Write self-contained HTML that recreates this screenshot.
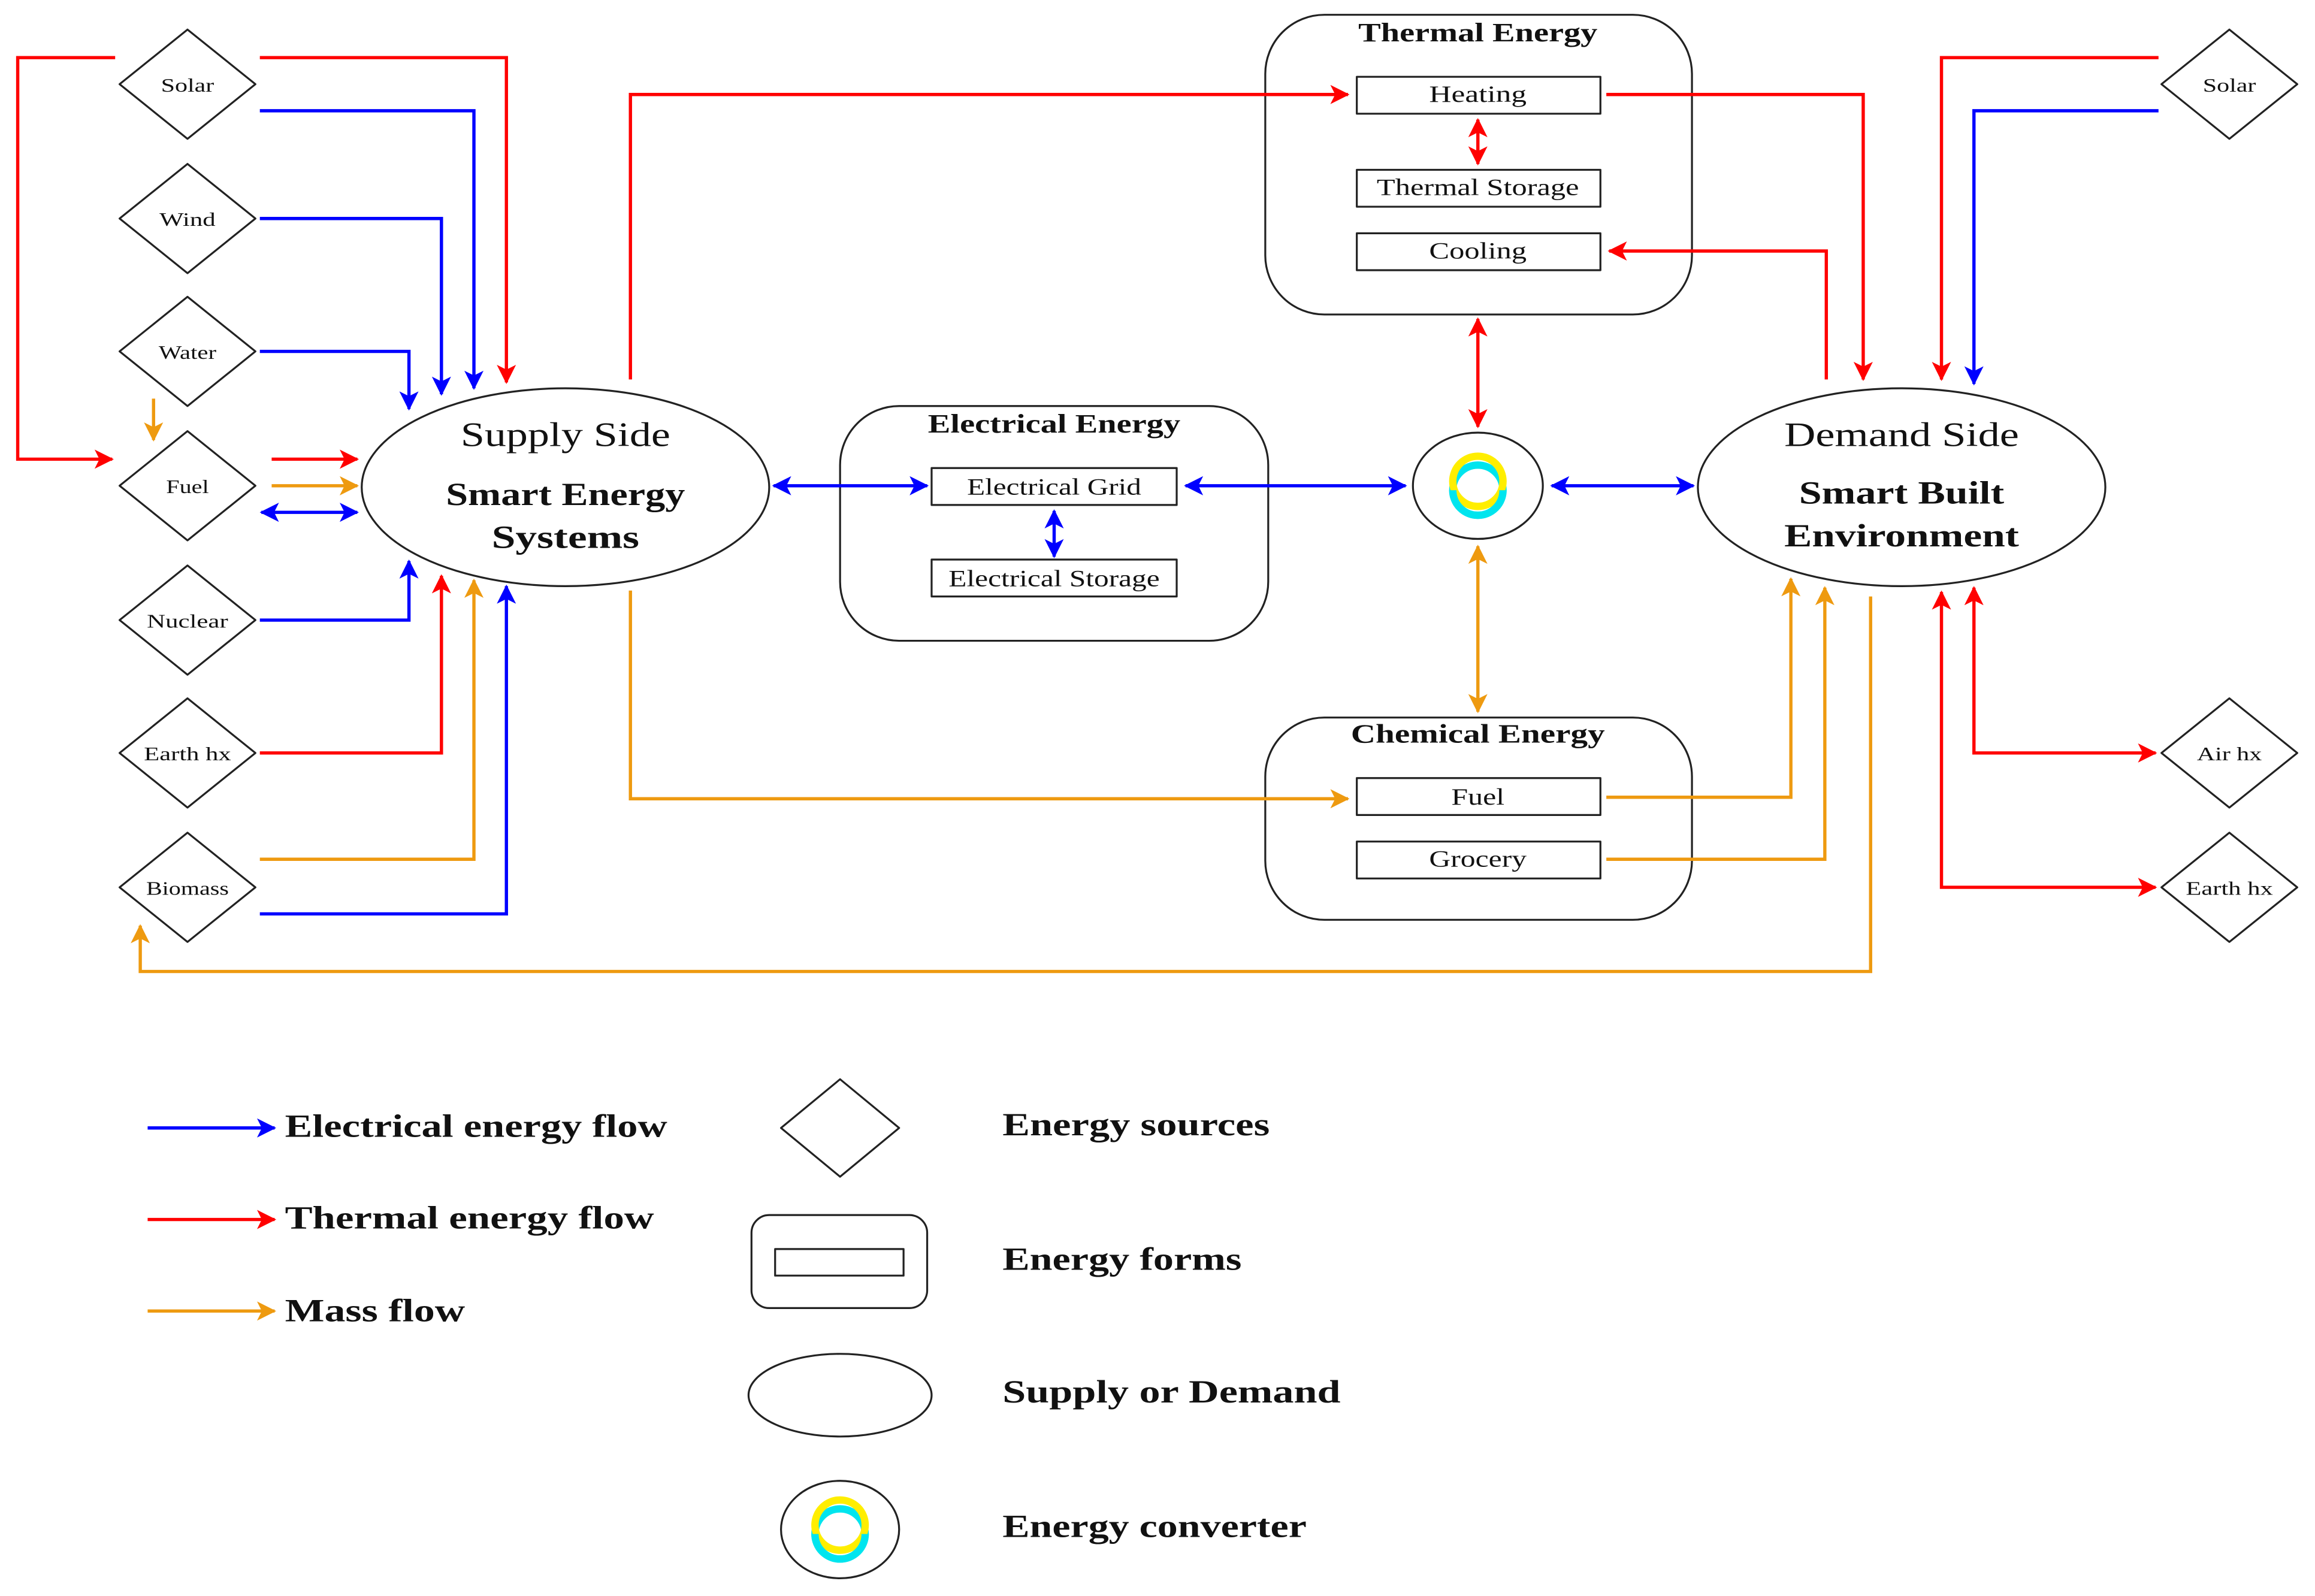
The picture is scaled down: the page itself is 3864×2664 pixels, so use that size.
<!DOCTYPE html>
<html><head><meta charset="utf-8"><style>
html,body{margin:0;padding:0;background:#fff}
svg{display:block}
text{font-family:"Liberation Serif",serif;fill:#111}
</style></head><body>
<svg width="3864" height="2664" viewBox="0 0 1568 1081" xmlns="http://www.w3.org/2000/svg">
<defs>
<marker id="ab" viewBox="0 0 12 12" refX="11" refY="6" markerWidth="13" markerHeight="13" markerUnits="userSpaceOnUse" orient="auto-start-reverse"><path d="M0,0 L12,6 L0,12 L3,6 Z" fill="#0000ff"/></marker>
<marker id="ar" viewBox="0 0 12 12" refX="11" refY="6" markerWidth="13" markerHeight="13" markerUnits="userSpaceOnUse" orient="auto-start-reverse"><path d="M0,0 L12,6 L0,12 L3,6 Z" fill="#ff0000"/></marker>
<marker id="ao" viewBox="0 0 12 12" refX="11" refY="6" markerWidth="13" markerHeight="13" markerUnits="userSpaceOnUse" orient="auto-start-reverse"><path d="M0,0 L12,6 L0,12 L3,6 Z" fill="#ee9a10"/></marker>
<g id="conv">
<circle cx="0" cy="3" r="17" fill="none" stroke="#00e5ee" stroke-width="5"/>
<circle cx="0" cy="-3" r="17" fill="none" stroke="#ffee00" stroke-width="5"/>
<path d="M-17,3 A17,17 0 0,0 17,3" fill="none" stroke="#00e5ee" stroke-width="5"/>
</g>
</defs>

<g fill="#fff" stroke="#222" stroke-width="1.3" stroke-linejoin="round">
<path d="M127,20 L173,57 L127,94 L81,57 Z"/>
<path d="M127,111 L173,148 L127,185 L81,148 Z"/>
<path d="M127,201 L173,238 L127,275 L81,238 Z"/>
<path d="M127,292 L173,329 L127,366 L81,329 Z"/>
<path d="M127,383 L173,420 L127,457 L81,420 Z"/>
<path d="M127,473 L173,510 L127,547 L81,510 Z"/>
<path d="M127,564 L173,601 L127,638 L81,601 Z"/>
<path d="M1510,20 L1556,57 L1510,94 L1464,57 Z"/>
<path d="M1510,473 L1556,510 L1510,547 L1464,510 Z"/>
<path d="M1510,564 L1556,601 L1510,638 L1464,601 Z"/>
<ellipse cx="383" cy="330" rx="138" ry="67"/>
<ellipse cx="1288" cy="330" rx="138" ry="67"/>
<rect x="569" y="275" width="290" height="159" rx="40"/>
<rect x="857" y="10" width="289" height="203" rx="40"/>
<rect x="857" y="486" width="289" height="137" rx="40"/>
<ellipse cx="1001" cy="329" rx="44" ry="36"/>
<rect x="919" y="52" width="165" height="25"/>
<rect x="919" y="115" width="165" height="25"/>
<rect x="919" y="158" width="165" height="25"/>
<rect x="631" y="317" width="166" height="25"/>
<rect x="631" y="379" width="166" height="25"/>
<rect x="919" y="527" width="165" height="25"/>
<rect x="919" y="570" width="165" height="25"/>
<path d="M569,731 L609,764 L569,797 L529,764 Z"/>
<rect x="509" y="823" width="119" height="63" rx="12"/>
<rect x="525" y="846" width="87" height="18"/>
<ellipse cx="569" cy="945" rx="62" ry="28"/>
<ellipse cx="569" cy="1036" rx="40" ry="33"/>
</g>
<use href="#conv" x="1001" y="329"/>
<use href="#conv" x="569" y="1036"/>

<g fill="none" stroke-width="2.2" stroke-linejoin="miter">
<path d="M78,39 H12 V311 H76" stroke="#f00" marker-end="url(#ar)"/>
<path d="M176,39 H343 V259" stroke="#f00" marker-end="url(#ar)"/>
<path d="M176,75 H321 V263" stroke="#00f" marker-end="url(#ab)"/>
<path d="M176,148 H299 V267" stroke="#00f" marker-end="url(#ab)"/>
<path d="M176,238 H277 V277" stroke="#00f" marker-end="url(#ab)"/>
<path d="M104,270 V298" stroke="#ee9a10" marker-end="url(#ao)"/>
<path d="M184,311 H242" stroke="#f00" marker-end="url(#ar)"/>
<path d="M184,329 H242" stroke="#ee9a10" marker-end="url(#ao)"/>
<path d="M177,347 H242" stroke="#00f" marker-start="url(#ab)" marker-end="url(#ab)"/>
<path d="M176,420 H277 V380" stroke="#00f" marker-end="url(#ab)"/>
<path d="M176,510 H299 V390" stroke="#f00" marker-end="url(#ar)"/>
<path d="M176,582 H321 V393" stroke="#ee9a10" marker-end="url(#ao)"/>
<path d="M176,619 H343 V397" stroke="#00f" marker-end="url(#ab)"/>
<path d="M427,257 V64 H913" stroke="#f00" marker-end="url(#ar)"/>
<path d="M427,400 V541 H913" stroke="#ee9a10" marker-end="url(#ao)"/>
<path d="M524,329 H628" stroke="#00f" marker-start="url(#ab)" marker-end="url(#ab)"/>
<path d="M803,329 H952" stroke="#00f" marker-start="url(#ab)" marker-end="url(#ab)"/>
<path d="M1051,329 H1147" stroke="#00f" marker-start="url(#ab)" marker-end="url(#ab)"/>
<path d="M714,346 V377" stroke="#00f" marker-start="url(#ab)" marker-end="url(#ab)"/>
<path d="M1001,81 V111" stroke="#f00" marker-start="url(#ar)" marker-end="url(#ar)"/>
<path d="M1001,216 V289" stroke="#f00" marker-start="url(#ar)" marker-end="url(#ar)"/>
<path d="M1001,370 V482" stroke="#ee9a10" marker-start="url(#ao)" marker-end="url(#ao)"/>
<path d="M1088,64 H1262 V257" stroke="#f00" marker-end="url(#ar)"/>
<path d="M1237,257 V170 H1090" stroke="#f00" marker-end="url(#ar)"/>
<path d="M1462,39 H1315 V257" stroke="#f00" marker-end="url(#ar)"/>
<path d="M1462,75 H1337 V260" stroke="#00f" marker-end="url(#ab)"/>
<path d="M1088,540 H1213 V392" stroke="#ee9a10" marker-end="url(#ao)"/>
<path d="M1088,582 H1236 V398" stroke="#ee9a10" marker-end="url(#ao)"/>
<path d="M1267,404 V658 H95 V627" stroke="#ee9a10" marker-end="url(#ao)"/>
<path d="M1337,398 V510 H1460" stroke="#f00" marker-start="url(#ar)" marker-end="url(#ar)"/>
<path d="M1315,401 V601 H1460" stroke="#f00" marker-start="url(#ar)" marker-end="url(#ar)"/>
<path d="M100,764 H186" stroke="#00f" marker-end="url(#ab)"/>
<path d="M100,826 H186" stroke="#f00" marker-end="url(#ar)"/>
<path d="M100,888 H186" stroke="#ee9a10" marker-end="url(#ao)"/>
</g>

<g font-size="13" text-anchor="middle">
<text x="127" y="62" textLength="36" lengthAdjust="spacingAndGlyphs">Solar</text>
<text x="127" y="153" textLength="38" lengthAdjust="spacingAndGlyphs">Wind</text>
<text x="127" y="243" textLength="39" lengthAdjust="spacingAndGlyphs">Water</text>
<text x="127" y="334" textLength="29" lengthAdjust="spacingAndGlyphs">Fuel</text>
<text x="127" y="425" textLength="55" lengthAdjust="spacingAndGlyphs">Nuclear</text>
<text x="127" y="515" textLength="59" lengthAdjust="spacingAndGlyphs">Earth hx</text>
<text x="127" y="606" textLength="56" lengthAdjust="spacingAndGlyphs">Biomass</text>
<text x="1510" y="62" textLength="36" lengthAdjust="spacingAndGlyphs">Solar</text>
<text x="1510" y="515" textLength="44" lengthAdjust="spacingAndGlyphs">Air hx</text>
<text x="1510" y="606" textLength="59" lengthAdjust="spacingAndGlyphs">Earth hx</text>
</g>
<g font-size="16" text-anchor="middle">
<text x="1001" y="69" textLength="66" lengthAdjust="spacingAndGlyphs">Heating</text>
<text x="1001" y="132" textLength="137" lengthAdjust="spacingAndGlyphs">Thermal Storage</text>
<text x="1001" y="175" textLength="66" lengthAdjust="spacingAndGlyphs">Cooling</text>
<text x="714" y="335" textLength="118" lengthAdjust="spacingAndGlyphs">Electrical Grid</text>
<text x="714" y="397" textLength="143" lengthAdjust="spacingAndGlyphs">Electrical Storage</text>
<text x="1001" y="545" textLength="36" lengthAdjust="spacingAndGlyphs">Fuel</text>
<text x="1001" y="587" textLength="66" lengthAdjust="spacingAndGlyphs">Grocery</text>
</g>
<g font-size="18" font-weight="bold" text-anchor="middle">
<text x="1001" y="28" textLength="162" lengthAdjust="spacingAndGlyphs">Thermal Energy</text>
<text x="714" y="293" textLength="171" lengthAdjust="spacingAndGlyphs">Electrical Energy</text>
<text x="1001" y="503" textLength="172" lengthAdjust="spacingAndGlyphs">Chemical Energy</text>
</g>
<g text-anchor="middle">
<text x="383" y="302" font-size="23" textLength="142" lengthAdjust="spacingAndGlyphs">Supply Side</text>
<text x="383" y="342" font-size="22" font-weight="bold" textLength="162" lengthAdjust="spacingAndGlyphs">Smart Energy</text>
<text x="383" y="371" font-size="22" font-weight="bold" textLength="100" lengthAdjust="spacingAndGlyphs">Systems</text>
<text x="1288" y="302" font-size="23" textLength="159" lengthAdjust="spacingAndGlyphs">Demand Side</text>
<text x="1288" y="341" font-size="22" font-weight="bold" textLength="139" lengthAdjust="spacingAndGlyphs">Smart Built</text>
<text x="1288" y="370" font-size="22" font-weight="bold" textLength="159" lengthAdjust="spacingAndGlyphs">Environment</text>
</g>
<g font-size="22" font-weight="bold">
<text x="193" y="770" textLength="259" lengthAdjust="spacingAndGlyphs">Electrical energy flow</text>
<text x="193" y="832" textLength="250" lengthAdjust="spacingAndGlyphs">Thermal energy flow</text>
<text x="193" y="895" textLength="122" lengthAdjust="spacingAndGlyphs">Mass flow</text>
<text x="679" y="769" textLength="181" lengthAdjust="spacingAndGlyphs">Energy sources</text>
<text x="679" y="860" textLength="162" lengthAdjust="spacingAndGlyphs">Energy forms</text>
<text x="679" y="950" textLength="229" lengthAdjust="spacingAndGlyphs">Supply or Demand</text>
<text x="679" y="1041" textLength="206" lengthAdjust="spacingAndGlyphs">Energy converter</text>
</g>
</svg>
</body></html>
